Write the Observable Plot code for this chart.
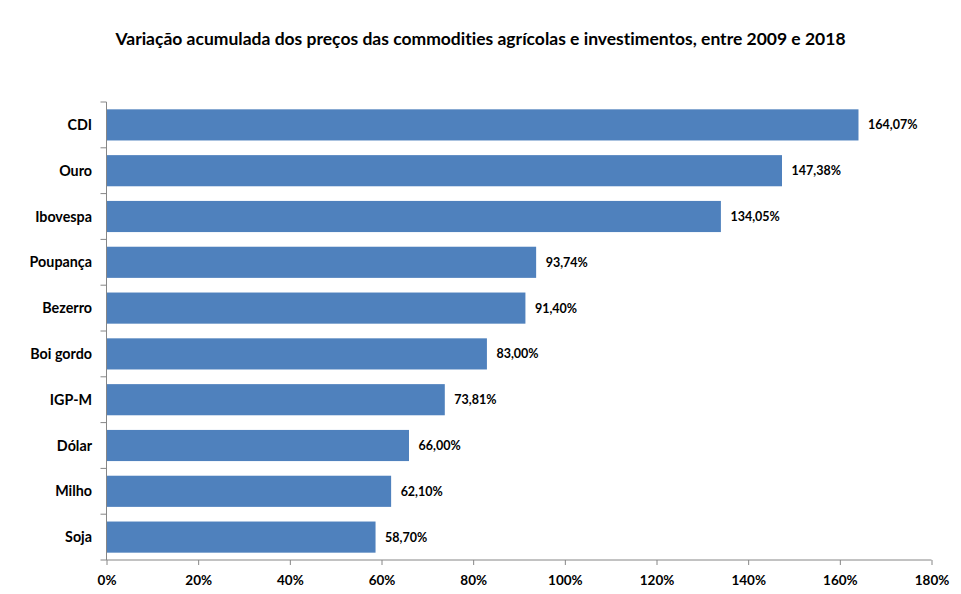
<!DOCTYPE html>
<html>
<head>
<meta charset="utf-8">
<script src="https://cdn.jsdelivr.net/npm/d3@7"></script>
<script src="https://cdn.jsdelivr.net/npm/@observablehq/plot@0.6"></script>
<style>
  html, body { margin: 0; padding: 0; background: #fff; }
  #wrap { width: 961px; height: 594px; position: relative; overflow: hidden; font-family: Lato, "Liberation Sans", sans-serif; font-variant-ligatures: none; }
  #title { position: absolute; left: 0; top: 28px; width: 961px; text-align: center; font-weight: bold; font-size: 17.5px; color: #000; line-height: 22px; }
  #chart { position: absolute; left: 0; top: 70px; }
  #chart svg { display: block; font-variant-ligatures: none; }
</style>
</head>
<body>
<div id="wrap">
  <div id="title">Variação acumulada dos preços das commodities agrícolas e investimentos, entre 2009 e 2018</div>
  <div id="chart"></div>
</div>
<script>
const categories = ["CDI", "Ouro", "Ibovespa", "Poupança", "Bezerro", "Boi gordo", "IGP-M", "Dólar", "Milho", "Soja"];
const values = [164.07, 147.38, 134.05, 93.74, 91.40, 83.00, 73.81, 66.00, 62.10, 58.70];
const xTicks = [0, 20, 40, 60, 80, 100, 120, 140, 160, 180];

const data = categories.map((c, i) => ({category: c, value: values[i]}));
const fmt = v => v.toFixed(2).replace(".", ",") + "%";
const axisColor = "#868686";

// y-axis line, bottom x-axis line and boundary ticks between categories
function axisLines(index, scales, values, dims) {
  const y = scales.y;
  const step = y.step ? y.step() : y.bandwidth();
  const bw = y.bandwidth();
  const g = d3.create("svg:g");
  const x0 = dims.marginLeft;
  const x1 = dims.width - dims.marginRight;
  const bounds = [];
  categories.forEach((c, i) => {
    const top = y(c) - (step - bw) / 2;
    bounds.push(top);
    if (i === categories.length - 1) bounds.push(top + step);
  });
  bounds.forEach(b => {
    g.append("line").attr("x1", x0 - 6).attr("x2", x0).attr("y1", b).attr("y2", b)
      .attr("stroke", axisColor).attr("stroke-width", 1);
  });
  const yb = dims.height - dims.marginBottom;
  g.append("line").attr("x1", x0).attr("x2", x0).attr("y1", bounds[0]).attr("y2", yb)
    .attr("stroke", axisColor).attr("stroke-width", 1);
  g.append("line").attr("x1", x0).attr("x2", x1).attr("y1", yb).attr("y2", yb)
    .attr("stroke", axisColor).attr("stroke-width", 1);
  return g.node();
}

const chart = Plot.plot({
  width: 961,
  height: 524,
  marginTop: 32,
  marginBottom: 34,
  marginLeft: 106.5,
  marginRight: 29.5,
  style: {fontFamily: "Lato, 'Liberation Sans', sans-serif", fontWeight: "bold", color: "#000", background: "#fff"},
  x: {domain: [0, 180], ticks: xTicks},
  y: {domain: categories, paddingInner: 0.32, paddingOuter: 0.16, align: 0.5, round: false},
  marks: [
    Plot.barX(data, {y: "category", x: "value", fill: "#4F81BD"}),
    Plot.text(data, {y: "category", x: "value", text: d => fmt(d.value), textAnchor: "start", dx: 9, fontSize: 12.5, fontWeight: "bold", fill: "#000"}),
    Plot.axisY({tickSize: 0, tickPadding: 15, fontSize: 14.3, fontWeight: "bold", label: null, fill: "#000"}),
    Plot.axisX({ticks: xTicks, tickFormat: d => d + "%", tickSize: 5, tickPadding: 10, fontSize: 13.5, fontWeight: "bold", label: null, stroke: axisColor, fill: "#000"}),
    axisLines
  ]
});
document.getElementById("chart").appendChild(chart);
</script>
</body>
</html>
